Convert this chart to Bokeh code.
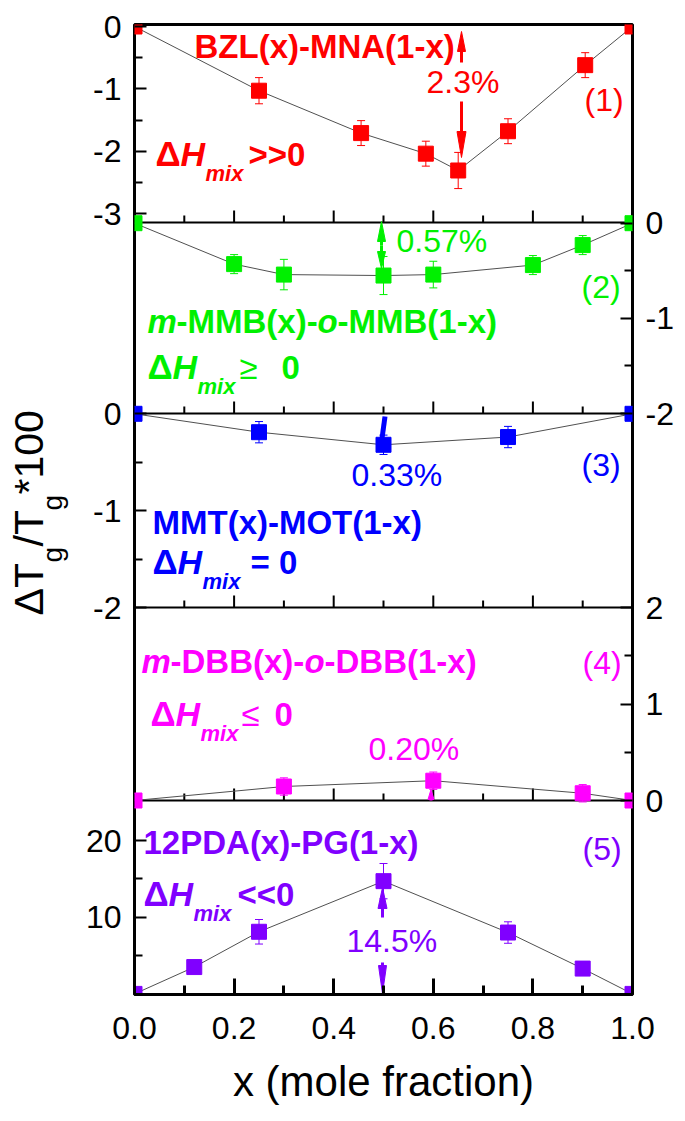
import math
from bokeh.plotting import figure
from bokeh.layouts import row
from bokeh.models import Range1d, LinearAxis, FixedTicker, Label, PrintfTickFormatter
from bokeh.embed import file_html
from bokeh.resources import INLINE

FONT = "Liberation Sans"

# ---------------- data ----------------
x1 = [0.0, 0.25, 0.455, 0.585, 0.65, 0.75, 0.905, 1.0]
y1 = [0.0, -1.03, -1.71, -2.04, -2.31, -1.68, -0.62, 0.0]
e1 = [0.0, 0.21, 0.20, 0.20, 0.29, 0.20, 0.20, 0.0]

x2 = [0.0, 0.2, 0.3, 0.5, 0.6, 0.8, 0.9, 1.0]
y2 = [0.0, -0.43, -0.54, -0.55, -0.54, -0.44, -0.23, 0.0]
e2 = [0.0, 0.10, 0.16, 0.20, 0.14, 0.10, 0.10, 0.0]

x3 = [0.0, 0.25, 0.5, 0.75, 1.0]
y3 = [0.0, -0.19, -0.32, -0.24, 0.0]
e3 = [0.0, 0.11, 0.10, 0.11, 0.0]

x4 = [0.0, 0.3, 0.6, 0.9, 1.0]
y4 = [0.0, 0.145, 0.205, 0.075, 0.0]
e4 = [0.0, 0.09, 0.09, 0.09, 0.0]

x5 = [0.0, 0.12, 0.25, 0.5, 0.75, 0.9, 1.0]
y5 = [0.0, 3.5, 8.1, 14.7, 8.0, 3.3, 0.0]
e5 = [0.0, 0.4, 1.6, 2.3, 1.4, 0.5, 0.0]

x_ticks = [0.0, 0.2, 0.4, 0.6, 0.8, 1.0]
x_minor = [0.1, 0.3, 0.5, 0.7, 0.9]

p1_ticks, p1_minor = [0, -1, -2, -3], [-0.5, -1.5, -2.5]
p2_ticks, p2_minor = [0, -1, -2], [-0.5, -1.5]
p3_ticks, p3_minor = [0, -1, -2], [-0.5, -1.5]
p4_ticks, p4_minor = [0, 1, 2], [0.5, 1.5]
p5_ticks, p5_minor = [10, 20], [5, 15]

RED, GREEN, BLUE, MAGENTA, PURPLE = "#FF0000", "#00F000", "#0000FF", "#FF00FF", "#8000FF"

# ---------------- layout geometry (page pixels) ----------------
FL, FR, FT, FB = 133, 631, 24, 994
TOTAL_H = 1113
TITLE_W = 82
panel_refs = {
    "p1": ((0, 26.0), (-3, 213.0)),
    "p2": ((0, 222.7), (-2, 413.0)),
    "p3": ((0, 413.3), (-2, 607.0)),
    "p4": ((2, 607.0), (0, 800.0)),
    "p5": ((20, 840.0), (0, 993.4)),
}
separators = [222, 413, 607, 800]
MID = 0.3465  # baseline sits this many em below the middle of the text box


def to_px(name, v):
    (va, pa), (vb, pb) = panel_refs[name]
    return round(pa + (v - va) * (pb - pa) / (vb - va), 2)


def panel_range(name):
    (va, pa), (vb, pb) = panel_refs[name]
    k = (va - vb) / (pa - pb)
    return Range1d(start=va + (FB - pa) * k, end=va + (FT - pa) * k)


p = figure(frame_width=FR - FL, frame_height=FB - FT,
           min_border_left=FL - TITLE_W, min_border_right=45, min_border_top=FT,
           min_border_bottom=TOTAL_H - FB,
           x_range=Range1d(0, 1), y_range=Range1d(FB, FT),
           y_axis_location=None, output_backend="svg", toolbar_location=None)
p.grid.visible = False
p.outline_line_color = "black"
p.outline_line_width = 3
p.background_fill_color = "white"
p.border_fill_color = "white"
p.extra_x_ranges = {"px": Range1d(FL, FR)}
p.extra_y_ranges = {k: panel_range(k) for k in panel_refs}

# main bottom x axis
xa = p.xaxis[0]
xa.ticker = FixedTicker(ticks=x_ticks, minor_ticks=x_minor)
xa.formatter = PrintfTickFormatter(format="%.1f")
xa.major_tick_in, xa.major_tick_out = 16, 0
xa.minor_tick_in, xa.minor_tick_out = 9, 0
xa.major_tick_line_width = 3
xa.minor_tick_line_width = 3
xa.axis_line_width = 3
xa.major_label_text_font = FONT
xa.major_label_text_font_size = "32px"
xa.major_label_text_color = "black"
xa.major_label_standoff = 22
xa.axis_label = "x (mole fraction)"
xa.axis_label_text_font = FONT
xa.axis_label_text_font_size = "42px"
xa.axis_label_text_font_style = "normal"
xa.axis_label_text_color = "black"
xa.axis_label_standoff = 16

# panel separators with inward (upward) x ticks
for ysep in separators:
    p.segment(x0=[0], y0=[ysep], x1=[1], y1=[ysep], line_color="black", line_width=2)
    p.segment(x0=x_ticks, y0=[ysep] * len(x_ticks), x1=x_ticks, y1=[ysep - 12] * len(x_ticks),
              line_color="black", line_width=2)
    p.segment(x0=x_minor, y0=[ysep] * len(x_minor), x1=x_minor, y1=[ysep - 7] * len(x_minor),
              line_color="black", line_width=2)


# one left and one right y axis carrying the ticks of the stacked panels
def side_axis(groups, side):
    ticks, minors, labels = [], [], {}
    for name, tk, mn in groups:
        for v in tk:
            tp = to_px(name, v)
            ticks.append(tp)
            labels[tp] = str(v)
        minors += [to_px(name, v) for v in mn]
    ax = LinearAxis(ticker=FixedTicker(ticks=ticks, minor_ticks=minors), major_label_overrides=labels,
                    major_tick_in=12, major_tick_out=0, minor_tick_in=8, minor_tick_out=0,
                    major_tick_line_width=2, minor_tick_line_width=2, axis_line_color=None,
                    major_label_text_font=FONT, major_label_text_font_size="32px",
                    major_label_text_color="black", major_label_standoff=13)
    p.add_layout(ax, side)


side_axis([("p1", p1_ticks, p1_minor), ("p3", p3_ticks, p3_minor), ("p5", p5_ticks, p5_minor)], "left")
side_axis([("p2", p2_ticks, p2_minor), ("p4", p4_ticks, p4_minor)], "right")

# data series
series = [(x1, y1, e1, RED, "p1"), (x2, y2, e2, GREEN, "p2"), (x3, y3, e3, BLUE, "p3"),
          (x4, y4, e4, MAGENTA, "p4"), (x5, y5, e5, PURPLE, "p5")]
for xs, ys, es, col, rn in series:
    p.line(xs, ys, y_range_name=rn, line_color="#505050", line_width=1)
    ex = [x for x, e in zip(xs, es) if e > 0]
    lo = [y - e for y, e in zip(ys, es) if e > 0]
    hi = [y + e for y, e in zip(ys, es) if e > 0]
    p.segment(x0=ex, y0=lo, x1=ex, y1=hi, y_range_name=rn, line_color=col, line_width=1)
    p.scatter(ex + ex, lo + hi, marker="dash", size=8, y_range_name=rn, line_color=col, line_width=1)
    p.scatter(xs, ys, marker="square", size=15, y_range_name=rn, fill_color=col, line_color=col)


# ---------------- annotations ----------------
def txt(fig, text, x, y, color, size, style="normal", angle=0.0, xr="px"):
    # (x, y) is the left end of the text baseline, in page pixels
    if angle:
        x = x - MID * size
    else:
        y = y - MID * size
    fig.add_layout(Label(x=x, y=y, x_range_name=xr, text=text, text_color=color,
                         text_font=FONT, text_font_size=f"{size}px", text_font_style=style,
                         text_align="left", text_baseline="middle", angle=angle))


def t(text, x, y, color, size, style="normal"):
    txt(p, text, x, y, color, size, style)


def dH(x, y, color, rel, rel_x, rel_style="bold"):
    t("\u0394", x, y, color, 35, "bold")
    t("H", x + 25, y, color, 34, "bold italic")
    t("mix", x + 50, y + 16, color, 22, "bold italic")
    t(rel, rel_x, y, color, 33, rel_style)


def arrow(x, y_tail, y_tip, color, hl, hw, lw=3):
    d = 1 if y_tip > y_tail else -1
    base = y_tip - d * hl
    p.segment(x0=[x], y0=[y_tail], x1=[x], y1=[base], x_range_name="px", line_color=color, line_width=lw)
    p.patch(x=[x - hw / 2, x + hw / 2, x], y=[base, base, y_tip], x_range_name="px",
            fill_color=color, line_color=color, line_width=1)


# panel 1
t("BZL(x)-MNA(1-x)", 193, 57, RED, 33, "bold")
t("2.3%", 425, 93, RED, 32)
t("(1)", 583, 111, RED, 32)
dH(154, 165, RED, ">>0", 247)
arrow(460, 62, 31, RED, 20, 8)
arrow(460, 101, 157, RED, 26, 9)

# panel 2
t("m", 146, 332, GREEN, 33, "bold italic")
t("-MMB(x)-", 175, 332, GREEN, 33, "bold")
t("o", 316, 332, GREEN, 33, "bold italic")
t("-MMB(1-x)", 336, 332, GREEN, 33, "bold")
t("0.57%", 395, 252, GREEN, 32)
t("(2)", 580, 298, GREEN, 32)
dH(146, 378, GREEN, "\u2265", 238, "normal")
t("0", 280, 378, GREEN, 33, "bold")
arrow(380, 245, 221, GREEN, 20, 8)
arrow(380, 245, 268, GREEN, 17, 8)

# panel 3
t("MMT(x)-MOT(1-x)", 151, 533, BLUE, 33, "bold")
t("0.33%", 350, 486, BLUE, 32)
t("(3)", 580, 476, BLUE, 32)
dH(151, 573, BLUE, "= 0", 249)
p.segment(x0=[383.5], y0=[416], x1=[380.5], y1=[438], x_range_name="px", line_color=BLUE, line_width=5)

# panel 4
t("m", 140, 672, MAGENTA, 33, "bold italic")
t("-DBB(x)-", 169, 672, MAGENTA, 33, "bold")
t("o", 303, 672, MAGENTA, 33, "bold italic")
t("-DBB(1-x)", 323, 672, MAGENTA, 33, "bold")
t("(4)", 581, 674, MAGENTA, 32)
dH(149, 725, MAGENTA, "\u2264", 240, "normal")
t("0", 273, 725, MAGENTA, 33, "bold")
t("0.20%", 367, 760, MAGENTA, 32)
arrow(429.5, 800, 789, MAGENTA, 10, 6)

# panel 5
t("12PDA(x)-PG(1-x)", 142, 853, PURPLE, 33, "bold")
t("(5)", 581, 860, PURPLE, 32)
dH(142, 905, PURPLE, "<<0", 236)
t("14.5%", 345, 952, PURPLE, 32)
arrow(381, 917, 887, PURPLE, 21, 9)
arrow(381, 962, 993, PURPLE, 28, 8)

# ---------------- rotated y-axis title (separate strip on the left) ----------------
# the row aligns this strip's frame with the main frame, so it uses the same page-pixel range
ty = figure(width=TITLE_W, height=TOTAL_H, x_range=Range1d(0, TITLE_W), y_range=Range1d(FB, FT),
            min_border=0, x_axis_location=None, y_axis_location=None,
            output_backend="svg", toolbar_location=None)
ty.grid.visible = False
ty.outline_line_color = None
ty.background_fill_color = "white"
ty.border_fill_color = "white"
A = math.pi / 2
txt(ty, "\u0394T", 43, 615, "black", 41, angle=A, xr="default")
txt(ty, "g", 62, 562, "black", 28, angle=A, xr="default")
txt(ty, "/T", 43, 546, "black", 41, angle=A, xr="default")
txt(ty, "g", 62, 510, "black", 28, angle=A, xr="default")
txt(ty, "*100", 43, 494, "black", 41, angle=A, xr="default")

layout = row(ty, p, spacing=0)
open("out.html", "w").write(file_html(layout, INLINE))
